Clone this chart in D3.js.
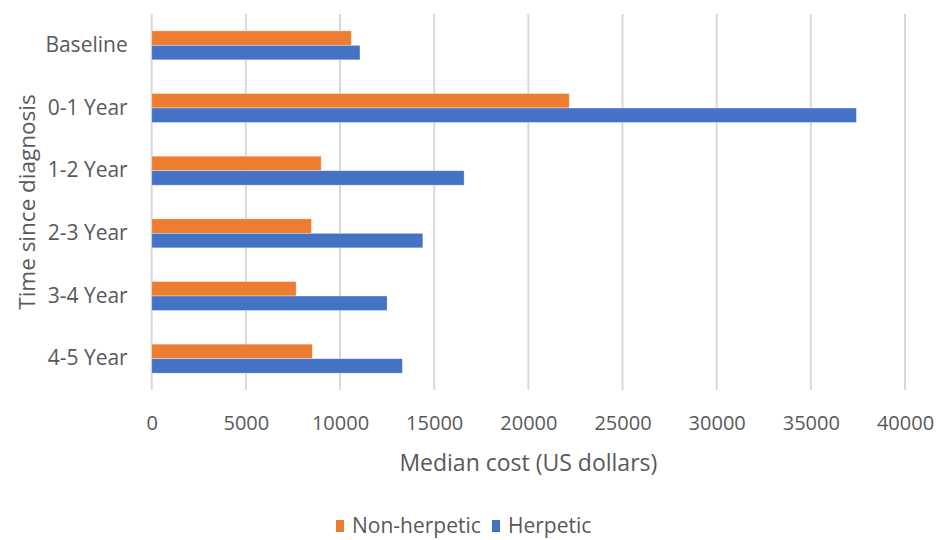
<!DOCTYPE html>
<html>
<head>
<meta charset="utf-8">
<script src="https://cdn.jsdelivr.net/npm/d3@7"></script>
<style>
  body { margin: 0; background: #fff; }
  svg text { font-family: "Open Sans", sans-serif; fill: #595959; }
</style>
</head>
<body>
<svg id="chart" width="936" height="540"></svg>
<script>
// data
const categories = ['Baseline', '0-1 Year', '1-2 Year', '2-3 Year', '3-4 Year', '4-5 Year'];
const seriesNames = ['Non-herpetic', 'Herpetic'];
const nonHerpetic = [10600, 22170, 9000, 8480, 7670, 8530];
const herpetic = [11060, 37420, 16590, 14400, 12500, 13310];
const xTicks = [0, 5000, 10000, 15000, 20000, 25000, 30000, 35000, 40000];
const colors = { 'Non-herpetic': '#ED7D31', 'Herpetic': '#4472C4' };

const width = 936;
const height = 540;
const margin = { top: 14, right: 31, bottom: 150, left: 151.7 };

const svg = d3.select('#chart');

const rows = categories.map((c, i) => ({
    cat: c,
    values: [
        { key: 'Non-herpetic', value: nonHerpetic[i] },
        { key: 'Herpetic', value: herpetic[i] }
    ]
}));

const x = d3.scaleLinear()
    .domain([0, 40000])
    .range([margin.left, width - margin.right]);

const y = d3.scaleBand()
    .domain(categories)
    .range([margin.top, height - margin.bottom])
    .paddingInner(0.537)
    .paddingOuter(0.2685);

const ySub = d3.scaleBand()
    .domain(seriesNames)
    .range([0, y.bandwidth()]);

// vertical gridlines
svg.append('g')
    .attr('class', 'grid')
    .selectAll('line')
    .data(xTicks)
    .enter()
    .append('line')
    .attr('x1', d => x(d))
    .attr('x2', d => x(d))
    .attr('y1', margin.top)
    .attr('y2', height - margin.bottom)
    .attr('stroke', '#d9d9d9')
    .attr('stroke-width', 2);

// bars
const groups = svg.append('g')
    .selectAll('g')
    .data(rows)
    .enter()
    .append('g')
    .attr('transform', d => `translate(0, ${y(d.cat)})`);

groups.selectAll('rect')
    .data(d => d.values)
    .enter()
    .append('rect')
    .attr('x', x(0))
    .attr('y', d => ySub(d.key))
    .attr('width', d => x(d.value) - x(0))
    .attr('height', ySub.bandwidth())
    .attr('fill', d => colors[d.key])
    .attr('stroke', '#ffffff')
    .attr('stroke-opacity', 0.45)
    .attr('stroke-width', 0.8);

// x axis (labels only)
const xAxis = svg.append('g')
    .attr('transform', `translate(0, ${height - margin.bottom})`)
    .call(d3.axisBottom(x).tickValues(xTicks).tickFormat(d3.format('d')).tickSize(0).tickPadding(26));
xAxis.select('.domain').remove();
xAxis.selectAll('text')
    .style('font-size', '20px')
    .style('font-family', '"Open Sans", sans-serif')
    .attr('fill', '#595959');

// y axis (labels only)
const yAxis = svg.append('g')
    .attr('transform', `translate(${margin.left}, 0)`)
    .call(d3.axisLeft(y).tickSize(0).tickPadding(24));
yAxis.select('.domain').remove();
yAxis.selectAll('text')
    .style('font-size', '21px')
    .style('font-family', '"Open Sans", sans-serif')
    .attr('fill', '#595959');

// axis titles
svg.append('text')
    .attr('x', (x(0) + x(40000)) / 2)
    .attr('y', 471)
    .attr('text-anchor', 'middle')
    .style('font-size', '23px')
    .text('Median cost (US dollars)');

svg.append('text')
    .attr('transform', `translate(35, ${(margin.top + height - margin.bottom) / 2}) rotate(-90)`)
    .attr('text-anchor', 'middle')
    .style('font-size', '22.5px')
    .text('Time since diagnosis');

// legend
const legendItems = [
    { key: 'Non-herpetic', x: 336 },
    { key: 'Herpetic', x: 492 }
];
const legend = svg.append('g');
legendItems.forEach(item => {
    legend.append('rect')
        .attr('x', item.x)
        .attr('y', 520)
        .attr('width', 8)
        .attr('height', 12)
        .attr('fill', colors[item.key]);
    legend.append('text')
        .attr('x', item.x + 16)
        .attr('y', 533)
        .style('font-size', '21px')
        .text(item.key);
});
</script>
</body>
</html>
